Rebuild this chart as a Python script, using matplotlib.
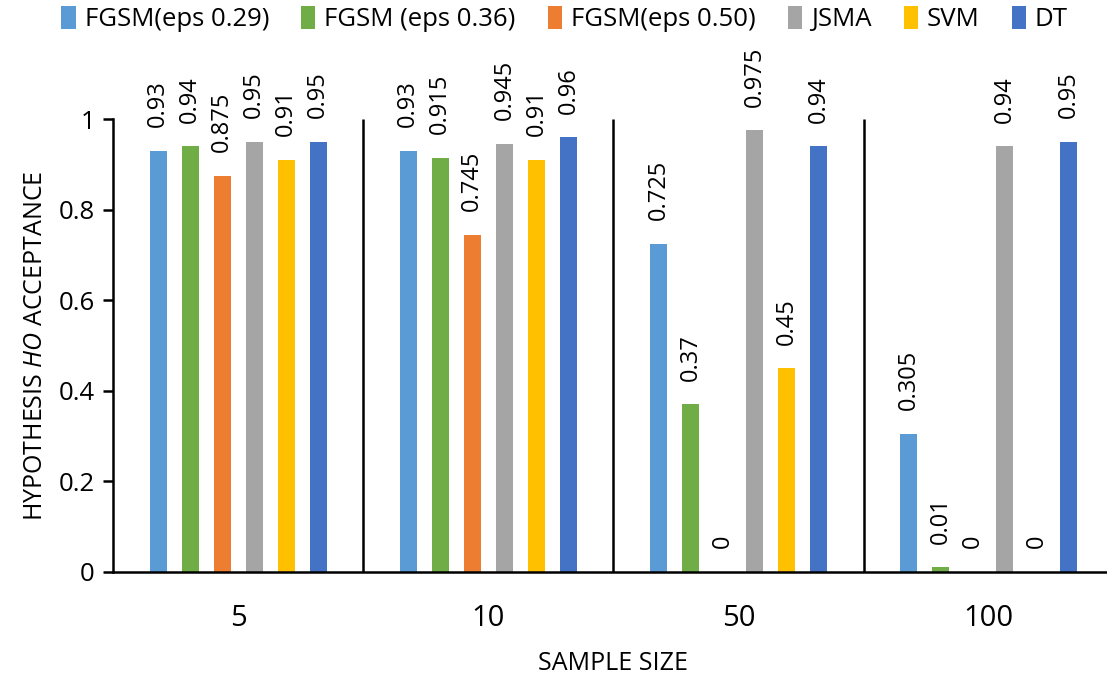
import numpy as np
import matplotlib
matplotlib.use('Agg')
import matplotlib.pyplot as plt

plt.rcParams['font.family'] = ['Open Sans', 'DejaVu Sans']
plt.rcParams['mathtext.fontset'] = 'custom'
plt.rcParams['mathtext.it'] = 'Open Sans:italic'
plt.rcParams['mathtext.rm'] = 'Open Sans'

# data
sample_sizes = ['5', '10', '50', '100']
series_names = ['FGSM(eps 0.29)', 'FGSM (eps 0.36)', 'FGSM(eps 0.50)', 'JSMA', 'SVM', 'DT']
fgsm_029 = [0.93, 0.93, 0.725, 0.305]
fgsm_036 = [0.94, 0.915, 0.37, 0.01]
fgsm_050 = [0.875, 0.745, 0, 0]
jsma = [0.95, 0.945, 0.975, 0.94]
svm = [0.91, 0.91, 0.45, 0]
dt = [0.95, 0.96, 0.94, 0.95]
colors = ['#5B9BD5', '#70AD47', '#ED7D31', '#A5A5A5', '#FFC000', '#4472C4']

all_series = [fgsm_029, fgsm_036, fgsm_050, jsma, svm, dt]

fig = plt.figure(figsize=(11.07, 6.79), dpi=100)
ax = fig.add_axes([0.1021, 0.1576, 0.9042, 0.6671])

x = np.arange(len(sample_sizes))
step = 0.128
width = 0.068
for i, (vals, name, c) in enumerate(zip(all_series, series_names, colors)):
    pos = x + (i - 2.5) * step
    bars = ax.bar(pos, vals, width, color=c, label=name, zorder=2)
    for p, v in zip(pos, vals):
        ax.annotate(f'{v:g}', (p, v), xytext=(0, 17), textcoords='offset points',
                    rotation=90, ha='center', va='bottom', fontsize=17,
                    annotation_clip=False)

# black separators between sample-size groups
ax.vlines([0.5, 1.5, 2.5], 0, 1, colors='black', lw=1.8, zorder=3)

ax.set_xlim(-0.5, 3.5)
ax.set_ylim(0, 1)
ax.set_yticks([0, 0.2, 0.4, 0.6, 0.8, 1])
ax.set_yticklabels(['0', '0.2', '0.4', '0.6', '0.8', '1'])
ax.set_xticks(x)
ax.set_xticklabels(sample_sizes)
ax.tick_params(axis='x', length=0, pad=23, labelsize=21)
ax.tick_params(axis='y', length=7, width=1.8, labelsize=18.5, pad=6)

for s in ['top', 'right']:
    ax.spines[s].set_visible(False)
ax.spines['left'].set_linewidth(1.8)
ax.spines['bottom'].set_linewidth(1.8)

ax.set_xlabel('SAMPLE SIZE', fontsize=18, labelpad=13)
ax.set_ylabel(r'HYPOTHESIS $\it{HO}$ ACCEPTANCE', fontsize=18, labelpad=8)

fig.legend(loc='upper center', bbox_to_anchor=(0.51, 1.025), ncol=6, frameon=False,
           fontsize=18.5, handlelength=0.55, handleheight=1.0, handletextpad=0.35,
           columnspacing=1.25)

fig.savefig('out.png', dpi=100)
